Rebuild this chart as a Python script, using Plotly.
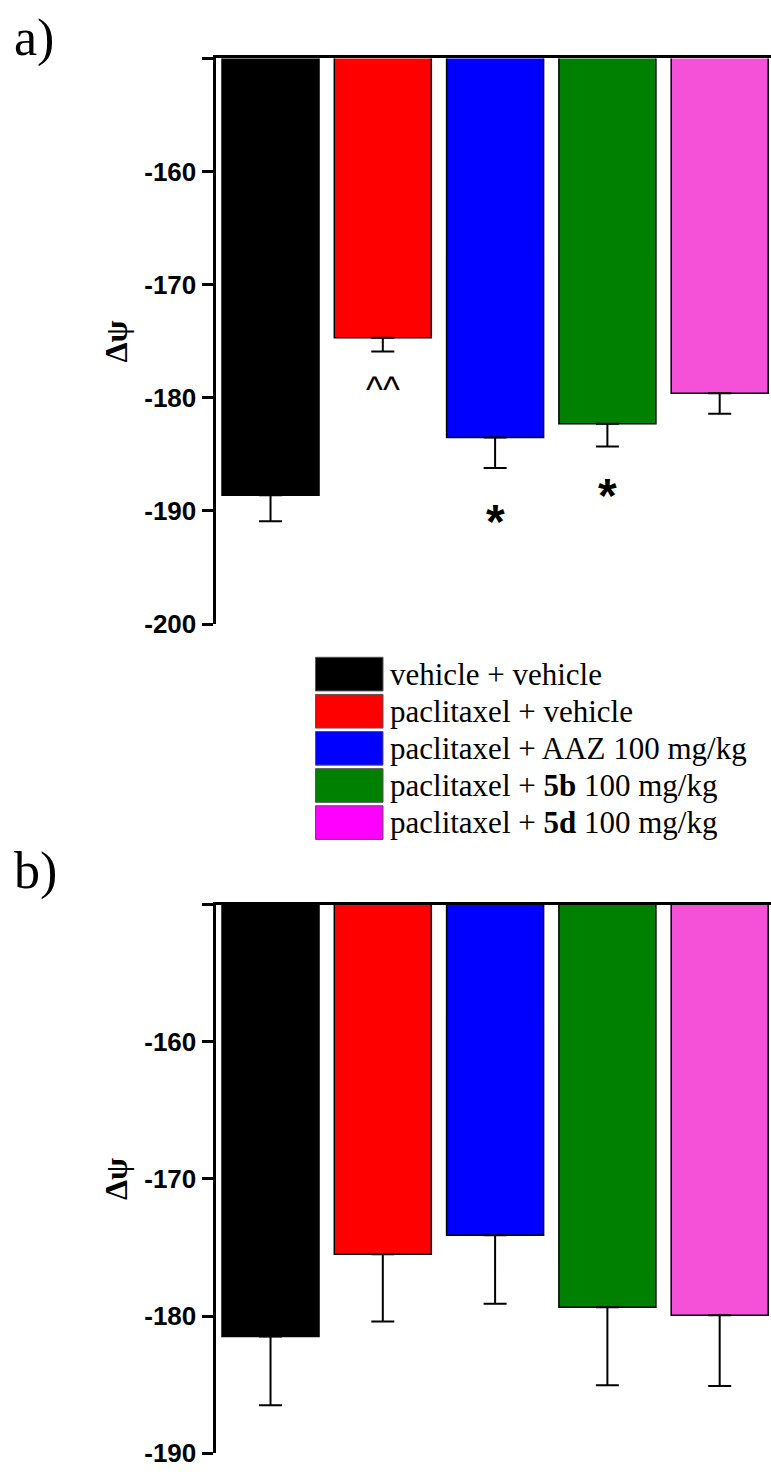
import plotly.graph_objects as go

# ---------------- data ----------------
groups = ["vehicle + vehicle", "paclitaxel + vehicle", "paclitaxel + AAZ 100 mg/kg",
          "paclitaxel + 5b 100 mg/kg", "paclitaxel + 5d 100 mg/kg"]
legend_labels = ["vehicle + vehicle", "paclitaxel + vehicle", "paclitaxel + AAZ 100 mg/kg",
                 "paclitaxel + <b>5b</b> 100 mg/kg", "paclitaxel + <b>5d</b> 100 mg/kg"]
bar_colors = ["#000000", "#FF0000", "#0000FF", "#008000", "#F550D8"]
legend_colors = ["#000000", "#FF0000", "#0000FF", "#008000", "#FF00FF"]

a_mean = [-188.6, -174.7, -183.5, -182.3, -179.6]
a_sem = [2.3, 1.2, 2.7, 2.0, 1.8]
a_sig = ["", "^^", "*", "*", ""]

b_mean = [-181.5, -175.5, -174.1, -179.35, -179.95]
b_sem = [5.0, 4.9, 5.0, 5.7, 5.15]

a_ticks = [-200, -190, -180, -170, -160, -150]
b_ticks = [-190, -180, -170, -160, -150]

# ---------------- layout helpers ----------------
W, H = 771, 1483
def px(x):
    return x / W
def py(y):
    return 1 - y / H

xpos = list(range(len(groups)))

fig = go.Figure()
for xa, ya, means, sems in [("x", "y", a_mean, a_sem), ("x2", "y2", b_mean, b_sem)]:
    fig.add_trace(go.Bar(
        x=xpos, y=means, xaxis=xa, yaxis=ya,
        marker=dict(color=bar_colors, line=dict(color="#000000", width=1.5)),
        error_y=dict(type="data", symmetric=False, array=[0] * len(sems), arrayminus=sems,
                     color="#000000", thickness=2, width=11.5),
        showlegend=False, hoverinfo="skip",
    ))

axis_common_x = dict(showline=True, linecolor="#000000", linewidth=3, side="top",
                     showticklabels=False, ticks="", showgrid=False, zeroline=False,
                     range=[-0.49, 4.457], domain=[px(215.5), 1])

def yaxis_cfg(ticks, rng, dom):
    return dict(range=rng, domain=dom, tickvals=ticks,
                ticktext=[str(t) if t != -150 else "" for t in ticks],
                showline=True, linecolor="#000000", linewidth=3, ticks="outside",
                ticklen=11, tickwidth=3, tickcolor="#000000", showgrid=False, zeroline=False,
                tickfont=dict(family="Liberation Sans, Arial", size=26, color="#000000", weight="bold"))

fig.update_layout(
    width=W, height=H, margin=dict(l=0, r=0, t=0, b=0),
    paper_bgcolor="white", plot_bgcolor="white", bargap=0.136,
    xaxis=dict(axis_common_x, anchor="y"),
    xaxis2=dict(axis_common_x, anchor="y2"),
    yaxis=dict(yaxis_cfg(a_ticks, [-200, -150], [py(630.5), py(59)]), anchor="x"),
    yaxis2=dict(yaxis_cfg(b_ticks, [-190, -150], [py(1468), py(914)]), anchor="x2"),
)

ann = []
# panel labels
ann.append(dict(text="a)", x=px(12), y=py(38), xref="paper", yref="paper", xanchor="left",
                yanchor="middle", showarrow=False,
                font=dict(family="Liberation Serif, Times New Roman", size=52, color="#000000")))
ann.append(dict(text="b)", x=px(12), y=py(880), xref="paper", yref="paper", xanchor="left",
                yanchor="middle", showarrow=False,
                font=dict(family="Liberation Serif, Times New Roman", size=52, color="#000000")))
# axis titles
for yc in (345, 1191):
    ann.append(dict(text="<b>Δψ</b>", x=px(116), y=py(yc), xref="paper", yref="paper",
                    xanchor="center", yanchor="middle", textangle=-90, showarrow=False,
                    font=dict(family="Liberation Serif, Times New Roman", size=32, color="#000000")))
# significance markers
sig_y = {1: -179.3, 2: -190.9, 3: -188.6}
for i, s in enumerate(a_sig):
    if s:
        ann.append(dict(text=s, x=xpos[i], y=sig_y[i], xref="x", yref="y", xanchor="center",
                        yanchor="middle", showarrow=False,
                        font=dict(family="Liberation Sans, Arial", size=48 if s == "*" else 36,
                                  color="#000000", weight="bold" if s == "*" else "normal")))

# legend
shapes = []
row_top = 664
step = 37.5
for i, (lab, col) in enumerate(zip(legend_labels, legend_colors)):
    t = row_top + i * step
    shapes.append(dict(type="rect", xref="paper", yref="paper", x0=px(315.5), x1=px(383),
                       y0=py(t + 34), y1=py(t), fillcolor=col, line=dict(color="#555555", width=1)))
    ann.append(dict(text=lab, x=px(388), y=py(t + 17), xref="paper", yref="paper",
                    xanchor="left", yanchor="middle", showarrow=False,
                    font=dict(family="Liberation Serif, Times New Roman", size=31, color="#000000")))

fig.update_layout(annotations=ann, shapes=shapes)
fig.write_html("out.html")
